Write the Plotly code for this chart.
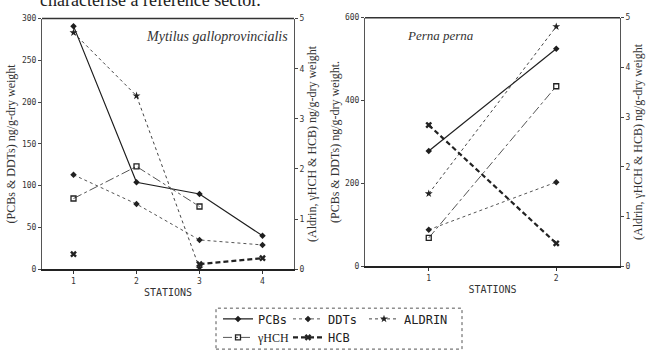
import plotly.graph_objects as go

# ---------------- data ----------------
stations_m = [1, 2, 3, 4]
pcb_m = [291, 104, 90, 40]
ddt_m = [113, 78, 35, 29]
aldrin_m = [4.72, 3.46, 0.02, None]
hch_m = [1.41, 2.05, 1.25, None]
hcb_m = [0.30, None, 0.10, 0.22]

stations_p = [1, 2]
pcb_p = [278, 525]
ddt_p = [88, 203]
aldrin_p = [1.46, 4.82]
hch_p = [0.57, 3.62]
hcb_p = [2.84, 0.46]

series_names = ["PCBs", "DDTs", "ALDRIN",
                "<span style='font-family:Liberation Serif;font-size:12px'>γHCH</span>", "HCB"]

# ---------------- styles ----------------
W, H = 647, 358
def px_x(p):
    return p / W
def px_y(p):
    return (H - p) / H

styles = [
    dict(line=dict(color="#1e1e1e", width=1.2, dash="solid"), marker=dict(symbol="diamond", size=5, color="#1e1e1e")),
    dict(line=dict(color="#555555", width=1, dash="dot"), marker=dict(symbol="diamond", size=5, color="#222222")),
    dict(line=dict(color="#444444", width=1, dash="3px,3px"), marker=dict(symbol="star", size=6, color="#222222")),
    dict(line=dict(color="#555555", width=1, dash="dashdot"), marker=dict(symbol="square-open", size=5, color="#222222", line=dict(width=1.3))),
    dict(line=dict(color="#222222", width=2.2, dash="5px,3px"), marker=dict(symbol="x", size=6, color="#222222")),
]
legend_ids = ["legend", "legend2", "legend3", "legend4", "legend5"]
# legend text positions (px): (text-left x, row center y)
legend_pos = [(258, 323), (328, 323), (404, 323), (258, 342), (328, 342)]

fig = go.Figure()

left_sets = [(pcb_m, "y"), (ddt_m, "y"), (aldrin_m, "y2"), (hch_m, "y2"), (hcb_m, "y2")]
right_sets = [(pcb_p, "y3"), (ddt_p, "y3"), (aldrin_p, "y4"), (hch_p, "y4"), (hcb_p, "y4")]

for i, (vals, ya) in enumerate(left_sets):
    fig.add_trace(go.Scatter(x=stations_m, y=vals, xaxis="x", yaxis=ya, mode="lines+markers",
                             name=series_names[i], line=styles[i]["line"], marker=styles[i]["marker"],
                             connectgaps=False, showlegend=True, legend=legend_ids[i]))
for i, (vals, ya) in enumerate(right_sets):
    fig.add_trace(go.Scatter(x=stations_p, y=vals, xaxis="x2", yaxis=ya, mode="lines+markers",
                             name=series_names[i], line=styles[i]["line"], marker=styles[i]["marker"],
                             connectgaps=False, showlegend=False))

tickfont = dict(family="DejaVu Sans Mono", size=8, color="#333333")
titlefont = dict(family="Liberation Serif", size=12, color="#333333")
xtitlefont = dict(family="DejaVu Sans Mono", size=10, color="#333333")

dom_y1 = [px_y(272), px_y(15)]
dom_y2 = [px_y(269), px_y(14)]

common_x = dict(showline=True, linecolor="#222222", linewidth=2, ticks="outside", ticklen=3,
                tickcolor="#333333", tickfont=tickfont, showgrid=False, zeroline=False,
                mirror=False, dtick=1)
common_y = dict(showline=True, linecolor="#555555", linewidth=1, ticks="outside", ticklen=3,
                tickcolor="#444444", tickfont=tickfont, showgrid=False, zeroline=False)

layout = dict(
    width=W, height=H,
    margin=dict(l=0, r=0, t=0, b=0),
    paper_bgcolor="white", plot_bgcolor="white",
    xaxis=dict(domain=[px_x(42), px_x(294)], range=[0.5, 4.5], anchor="y",
               title=dict(text="STATIONS", font=xtitlefont, standoff=4), **common_x),
    xaxis2=dict(domain=[px_x(365), px_x(620)], range=[0.5, 2.5], anchor="y3",
                title=dict(text="STATIONS", font=xtitlefont, standoff=4), **common_x),
    yaxis=dict(domain=dom_y1, range=[0, 300], dtick=50, anchor="x",
               title=dict(text="(PCBs &amp; DDTs) ng/g-dry weight", font=titlefont, standoff=3), **common_y),
    yaxis2=dict(domain=dom_y1, range=[0, 5], dtick=1, overlaying="y", side="right", anchor="x",
                title=dict(text="(Aldrin, γHCH &amp; HCB) ng/g-dry weight", font=titlefont, standoff=4), **common_y),
    yaxis3=dict(domain=dom_y2, range=[0, 600], dtick=200, anchor="x2",
                title=dict(text="(PCBs &amp; DDTs) ng/g-dry weight.", font=titlefont, standoff=2), **common_y),
    yaxis4=dict(domain=dom_y2, range=[0, 5], dtick=1, overlaying="y3", side="right", anchor="x2",
                title=dict(text="(Aldrin, γHCH &amp; HCB) ng/g-dry weight", font=titlefont, standoff=4), **common_y),
    showlegend=True,
)
for lid, (tx, ty) in zip(legend_ids, legend_pos):
    layout[lid] = dict(orientation="h", x=px_x(tx - 40), y=px_y(ty), xanchor="left", yanchor="middle",
                       font=dict(family="DejaVu Sans Mono", size=12, color="#222"),
                       bgcolor="rgba(0,0,0,0)", borderwidth=0, itemwidth=30)
fig.update_layout(**layout)

# top border lines of the plot boxes
fig.add_shape(type="line", xref="x domain", yref="y domain", x0=0, x1=1, y0=1, y1=1,
              line=dict(color="#333", width=1.5))
fig.add_shape(type="line", xref="x2 domain", yref="y3 domain", x0=0, x1=1, y0=1, y1=1,
              line=dict(color="#333", width=1.5))
# legend box
fig.add_shape(type="rect", xref="paper", yref="paper", x0=px_x(216), x1=px_x(462),
              y0=px_y(354), y1=px_y(312), line=dict(color="#555", width=1, dash="dot"))

fig.add_annotation(text="<i>Mytilus galloprovincialis</i>", xref="x domain", yref="y domain",
                   x=0.984, y=0.93, xanchor="right", yanchor="middle", showarrow=False,
                   font=dict(family="Liberation Serif", size=14, color="#333"))
fig.add_annotation(text="<i>Perna perna</i>", xref="x2 domain", yref="y3 domain",
                   x=0.157, y=0.93, xanchor="left", yanchor="middle", showarrow=False,
                   font=dict(family="Liberation Serif", size=13, color="#333"))
fig.add_annotation(text="characterise a reference sector.", xref="paper", yref="paper",
                   x=px_x(38), y=px_y(8), xanchor="left", yanchor="bottom", showarrow=False,
                   font=dict(family="Liberation Serif", size=18, color="#222"))

fig.write_html("out.html", config={"displayModeBar": False},
               post_script="document.body.style.margin='0';document.body.style.padding='0';")
